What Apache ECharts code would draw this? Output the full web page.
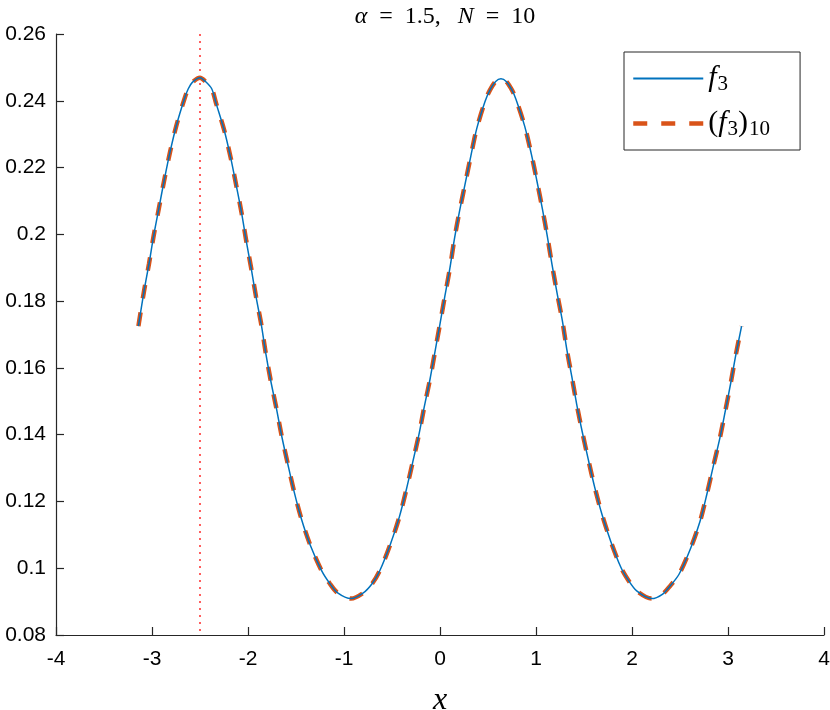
<!DOCTYPE html>
<html>
<head>
<meta charset="utf-8">
<script src="https://cdn.jsdelivr.net/npm/echarts@6/dist/echarts.min.js"></script>
<style>
  html, body { margin: 0; padding: 0; background: #fff; }
  #chart { width: 830px; height: 710px; }
</style>
</head>
<body>
<div id="chart"></div>
<script>
// values
var xs = [-3.1416, -3.083, -3.031, -2.982, -2.927, -2.872, -2.8125, -2.743, -2.656, -2.622, -2.58, -2.5,
  -2.448, -2.378, -2.333, -2.247, -2.18, -2.122, -2.066, -2.018, -1.966, -1.917, -1.861, -1.816, -1.764,
  -1.705, -1.649, -1.586, -1.521, -1.445, -1.351, -1.232, -1.15, -1.066, -0.927, -0.799, -0.704, -0.625,
  -0.514, -0.424, -0.351, -0.284, -0.219, -0.164, -0.104, -0.052, 0, 0.052, 0.104, 0.149, 0.201, 0.26,
  0.32, 0.382, 0.469, 0.52, 0.58, 0.635, 0.69, 0.75, 0.792, 0.882, 0.951, 1.01, 1.066, 1.118, 1.167,
  1.219, 1.274, 1.32, 1.372, 1.424, 1.482, 1.545, 1.611, 1.6875, 1.778, 1.885, 1.96, 2.049, 2.205, 2.316,
  2.4, 2.49, 2.611, 2.708, 2.781, 2.847, 2.914, 2.972, 3.028, 3.08, 3.1416];
var f3 = [0.1725, 0.183, 0.1912, 0.1997, 0.208, 0.2163, 0.2246, 0.2329, 0.2411, 0.2436, 0.2455, 0.2469,
  0.2459, 0.2436, 0.2393, 0.2311, 0.2229, 0.2146, 0.2063, 0.198, 0.1897, 0.1814, 0.1729, 0.1646, 0.1563,
  0.148, 0.1396, 0.1313, 0.1231, 0.1149, 0.1069, 0.0992, 0.0955, 0.0926, 0.0909, 0.0926, 0.0955, 0.0994,
  0.1074, 0.1153, 0.1235, 0.1318, 0.1401, 0.1483, 0.1566, 0.1649, 0.1732, 0.1817, 0.19, 0.1984, 0.2066, 0.2149,
  0.2233, 0.2316, 0.2398, 0.2432, 0.2458, 0.2466, 0.2458, 0.2432, 0.2404, 0.2324, 0.2241, 0.2159, 0.2077, 0.1994, 0.1909,
  0.1825, 0.1742, 0.1657, 0.1575, 0.1491, 0.1408, 0.1325, 0.1243, 0.1161, 0.1081, 0.1002, 0.0965, 0.0932, 0.0909, 0.0922,
  0.0948, 0.0982, 0.106, 0.114, 0.1223, 0.1306, 0.1388, 0.1471, 0.1554, 0.1637, 0.1725];
// the approximation lies on top of f3 in the picture
var f3N = f3.slice();
var markX = -2.5;
var markY = [0.26, 0.08];
var xTicks = [-4, 4, 1];
var yTicks = [0.08, 0.26, 0.02];

function pairs(a, b) {
  return a.map(function (v, i) { return [v, b[i]]; });
}

var chart = echarts.init(document.getElementById('chart'));
var axisCol = '#262626';
var blue = '#0072BD';
var orange = '#D95319';
var mathFont = '"Liberation Serif", "DejaVu Serif", serif';
var dashLine = { color: orange, width: 4.5, type: [14, 14], cap: 'butt' };

chart.setOption({
  animation: false,
  backgroundColor: '#fff',
  title: {
    text: '{i|α}{o|=}{r|1.5,}{i2|N}{o|=}{r|10}',
    left: 440,
    top: 0,
    textAlign: 'center',
    textStyle: {
      fontWeight: 'normal',
      fontSize: 24,
      rich: {
        i: { fontFamily: mathFont, fontStyle: 'italic', fontWeight: 'normal', fontSize: 24, color: '#000' },
        i2: { fontFamily: mathFont, fontStyle: 'italic', fontWeight: 'normal', fontSize: 24, color: '#000', padding: [0, 0, 0, 17] },
        o: { fontFamily: mathFont, fontWeight: 'normal', fontSize: 24, color: '#000', padding: [0, 12, 0, 12] },
        r: { fontFamily: mathFont, fontWeight: 'normal', fontSize: 24, color: '#000' }
      }
    }
  },
  grid: { left: 56, right: 6, top: 34, bottom: 75, containLabel: false, outerBoundsMode: 'none' },
  legend: {
    orient: 'vertical',
    left: 624,
    top: 52,
    padding: [10, 30, 10, 7],
    itemWidth: 70,
    itemHeight: 12,
    itemGap: 12,
    borderColor: '#262626',
    borderWidth: 1,
    backgroundColor: '#fff',
    itemStyle: { opacity: 0 },
    data: [
      { name: 'f3', lineStyle: { color: blue, width: 2 } },
      { name: '(f3)10', lineStyle: dashLine }
    ],
    formatter: function (name) {
      return name === 'f3' ? '{i|f}{s|3}' : '{r|(}{i|f}{s|3}{r|)}{s|10}';
    },
    textStyle: {
      rich: {
        i: { fontFamily: mathFont, fontStyle: 'italic', fontSize: 30, lineHeight: 36, color: '#000' },
        r: { fontFamily: mathFont, fontSize: 30, lineHeight: 36, color: '#000' },
        s: { fontFamily: mathFont, fontSize: 21, lineHeight: 36, color: '#000', padding: [12, 0, 0, 1] }
      }
    }
  },
  xAxis: {
    type: 'value',
    min: xTicks[0],
    max: xTicks[1],
    interval: xTicks[2],
    name: 'x',
    nameLocation: 'middle',
    nameGap: 50,
    nameTextStyle: { fontFamily: mathFont, fontStyle: 'italic', fontSize: 32, color: '#000' },
    axisLine: { onZero: false, lineStyle: { color: axisCol, width: 1.2 } },
    axisTick: { inside: true, length: 8, lineStyle: { color: axisCol, width: 1.2 } },
    axisLabel: { margin: 14, fontFamily: '"Liberation Sans", Arial, sans-serif', fontSize: 21, color: '#000' },
    splitLine: { show: false }
  },
  yAxis: {
    type: 'value',
    min: yTicks[0],
    max: yTicks[1],
    interval: yTicks[2],
    axisLine: { show: true, onZero: false, lineStyle: { color: axisCol, width: 1.2 } },
    axisTick: { show: true, inside: true, length: 8, lineStyle: { color: axisCol, width: 1.2 } },
    axisLabel: { margin: 10, fontFamily: '"Liberation Sans", Arial, sans-serif', fontSize: 21, color: '#000' },
    splitLine: { show: false }
  },
  series: [
    {
      name: 'marker',
      type: 'line',
      data: [[markX, markY[0]], [markX, markY[1]]],
      symbol: 'none',
      lineStyle: { color: 'rgba(255, 40, 40, 0.75)', width: 2, type: [2, 5] },
      silent: true,
      z: 1
    },
    {
      name: '(f3)10',
      type: 'line',
      data: pairs(xs, f3N),
      symbol: 'none',
      smooth: 0.3,
      itemStyle: { color: orange },
      lineStyle: dashLine,
      z: 2
    },
    {
      name: 'f3',
      type: 'line',
      data: pairs(xs, f3),
      symbol: 'none',
      smooth: 0.3,
      itemStyle: { color: blue },
      lineStyle: { color: blue, width: 1.5 },
      z: 3
    }
  ]
});
</script>
</body>
</html>
